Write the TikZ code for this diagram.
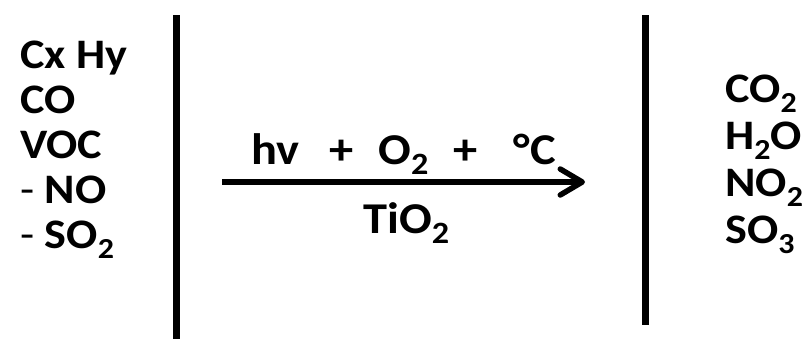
\documentclass[tikz,border=0pt]{standalone}
\usepackage{fontspec}
\setmainfont[FakeStretch=1.1]{Carlito}
\usetikzlibrary{arrows.meta}
\newcommand\sbx[1]{{\fontsize{29}{29}\selectfont\raisebox{-10pt}{#1}}}
\newcommand\sbm[1]{{\fontsize{31}{31}\selectfont\raisebox{-10pt}{#1}}}
\newcommand\dsh{{\mdseries -}}
\tikzset{
  chem/.style={font=\fontsize{42}{42}\selectfont\bfseries, inner sep=0pt, anchor=base west},
  mid/.style={chem, font=\fontsize{44}{44}\selectfont\bfseries},
  bar/.style={line width=7pt},
  rxn/.style={line width=5.5pt, -{Straight Barb[length=22pt,width=26pt,round]}}
}
\begin{document}
\begin{tikzpicture}[x=1pt,y=-1pt]
\useasboundingbox (0,0) rectangle (807,341);
% left species
\node[chem] (l1) at (20,68) {Cx Hy};
\node[chem] (l2) at (20,113) {CO};
\node[chem] (l3) at (20,158) {VOC};
\node[chem] (l4) at (20,203) {\dsh\ NO};
\node[chem] (l5) at (20,248) {\dsh\ SO\sbx{2}};
% bars
\coordinate (b1t) at (176.5,15);
\coordinate (b1b) at (176.5,339);
\coordinate (b2t) at (645.5,15);
\coordinate (b2b) at (645.5,325);
\draw[bar] (b1t) -- (b1b);
\draw[bar] (b2t) -- (b2b);
% arrow
\coordinate (as) at (222,182);
\coordinate (ae) at (585,182);
\draw[rxn] (as) -- (ae);
\node[mid] (top) at (251,164) {hv\hspace{30pt}+\hspace{25pt}O\sbm{2}\hspace{25pt}+\hspace{36pt}\textdegree C};
\node[mid] (cat) at (363,233) {TiO\sbm{2}};
% right species
\node[chem] (r1) at (725,102) {CO\sbx{2}};
\node[chem] (r2) at (725,149) {H\sbx{2}O};
\node[chem] (r3) at (725,196) {NO\sbx{2}};
\node[chem] (r4) at (725,243) {SO\sbx{3}};
\end{tikzpicture}
\end{document}
